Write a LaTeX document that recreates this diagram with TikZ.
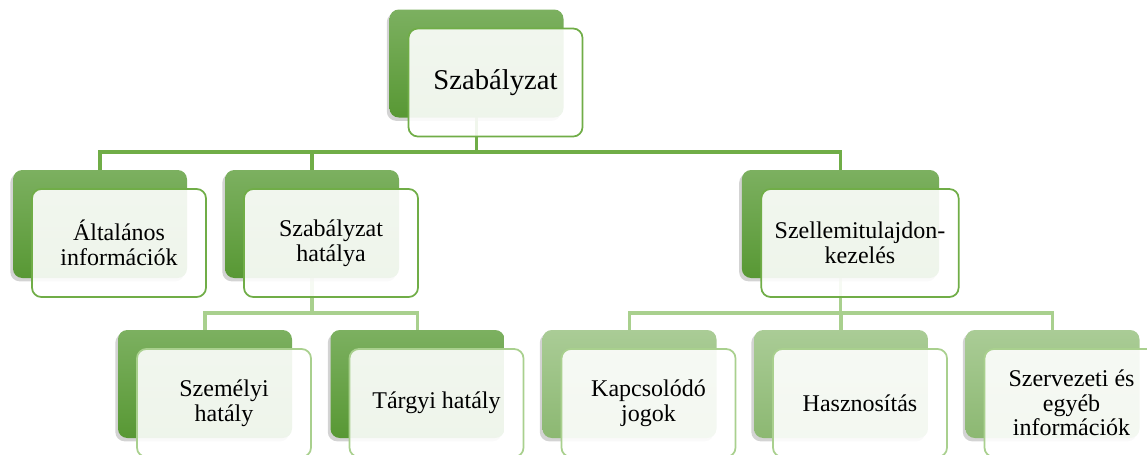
\documentclass[tikz,border=0pt]{standalone}
\usepackage{fontspec}
\setmainfont{Liberation Serif}
\usetikzlibrary{positioning,shadows,backgrounds}
\definecolor{orgreen}{RGB}{112,173,71}
\definecolor{orgreenlt}{RGB}{169,208,142}
\definecolor{backtop}{RGB}{124,176,96}
\definecolor{backbot}{RGB}{88,152,52}
\definecolor{backtoplt}{RGB}{170,204,150}
\definecolor{backbotlt}{RGB}{140,184,114}

\begin{document}
\begin{tikzpicture}[x=0.75pt, y=-0.75pt,
  back/.style={rectangle, rounded corners=7pt, minimum width=130.5pt, minimum height=81pt,
    top color=backtop, bottom color=backbot, draw=none,
    drop shadow={shadow xshift=-2pt, shadow yshift=-2.5pt, opacity=0.35}},
  backlt/.style={back, top color=backtoplt, bottom color=backbotlt},
  front/.style={rectangle, rounded corners=7pt, minimum width=130.5pt, minimum height=81pt,
    draw=orgreen, line width=1.3pt, fill=white, fill opacity=0.9, text opacity=1,
    align=center, font=\fontsize{18}{18.5}\selectfont},
  frontlt/.style={front, draw=orgreenlt},
  wide/.style={minimum width=148pt},
  conn/.style={draw=orgreen, line width=2.4pt},
  connlt/.style={draw=orgreenlt, line width=2.4pt}]
  \useasboundingbox (0,0) rectangle (1147,454);
  \clip (0,0) rectangle (1147,454);

  % top level
  \node[back] (szab-b) at (476.5,63.5) {};
  \node[front, font=\fontsize{21.5}{24}\selectfont] (szab) at ([shift={(19,19)}]szab-b) {Szabályzat};

  % second level
  \node[back] (alt-b) at (100,224) {};
  \node[front] (alt) at ([shift={(19,19)}]alt-b) {Általános\\információk};
  \node[back] (hat-b) at (312,224) {};
  \node[front] (hat) at ([shift={(19,19)}]hat-b) {Szabályzat\\hatálya};
  \node[back, wide] (szel-b) at (840.5,224) {};
  \node[front, wide] (szel) at ([shift={(19.5,19)}]szel-b) {Szellemitulajdon-\\kezelés};

  % third level
  \node[back] (szem-b) at (205,384) {};
  \node[frontlt] (szem) at ([shift={(19,19)}]szem-b) {Személyi\\hatály};
  \node[back] (targy-b) at (417.5,384) {};
  \node[frontlt] (targy) at ([shift={(19,19)}]targy-b) {Tárgyi hatály};
  \node[backlt] (kapcs-b) at (629.5,384) {};
  \node[frontlt] (kapcs) at ([shift={(19,19)}]kapcs-b) {Kapcsolódó\\jogok};
  \node[backlt] (hasz-b) at (841,384) {};
  \node[frontlt] (hasz) at ([shift={(19,19)}]hasz-b) {Hasznosítás};
  \node[backlt] (szerv-b) at (1052.5,384) {};
  \node[frontlt] (szerv) at ([shift={(19,19)}]szerv-b) {Szervezeti és\\egyéb\\információk};

  % connectors
  \coordinate (bus1) at (0,152);
  \coordinate (bus2) at (0,313);
  \begin{scope}[on background layer]
    \foreach \kid in {alt-b,hat-b,szel-b}
      \draw[conn] (szab-b.center) |- (bus1 -| \kid) -- (\kid.north);
    \foreach \kid in {szem-b,targy-b}
      \draw[connlt] (hat-b.center) |- (bus2 -| \kid) -- (\kid.north);
    \foreach \kid in {kapcs-b,hasz-b,szerv-b}
      \draw[connlt] (szel-b.center) |- (bus2 -| \kid) -- (\kid.north);
  \end{scope}
\end{tikzpicture}
\end{document}
